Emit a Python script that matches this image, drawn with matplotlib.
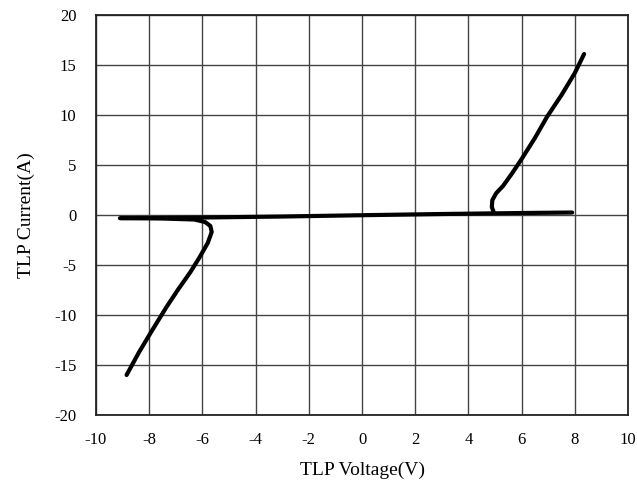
import matplotlib
matplotlib.use('Agg')
import matplotlib.pyplot as plt

# leakage line (V, A)
leak_v = [-9.1, -6.0, -3.0, 0.0, 3.0, 6.0, 7.9]
leak_i = [-0.32, -0.25, -0.15, -0.02, 0.1, 0.2, 0.25]

# positive snapback branch
pos_v = [4.95, 4.88, 4.9, 5.05, 5.3, 5.65, 6.0, 6.5, 6.95, 7.5, 8.0, 8.35]
pos_i = [0.3, 0.8, 1.5, 2.2, 2.9, 4.2, 5.6, 7.7, 9.8, 12.0, 14.2, 16.1]

# negative snapback branch
neg_v = [-9.05, -7.5, -6.3, -5.9, -5.7, -5.65, -5.8, -6.1, -6.45, -6.9, -7.35, -7.95, -8.4, -8.85]
neg_i = [-0.3, -0.35, -0.45, -0.7, -1.1, -1.7, -2.8, -4.2, -5.7, -7.4, -9.2, -11.8, -13.8, -16.0]

x_ticks = list(range(-10, 11, 2))
y_ticks = list(range(-20, 21, 5))

plt.rcParams['font.family'] = ['Liberation Serif', 'DejaVu Serif']
plt.rcParams['axes.unicode_minus'] = False

fig = plt.figure(figsize=(6.37, 4.88), dpi=100)
ax = fig.add_axes([0.1507, 0.1496, 0.8352, 0.8196])

for v, i in [(leak_v, leak_i), (pos_v, pos_i), (neg_v, neg_i)]:
    ax.plot(v, i, color='black', lw=3.0, solid_capstyle='round', solid_joinstyle='round', zorder=3)

ax.set_xlim(-10, 10)
ax.set_ylim(-20, 20)
ax.set_xticks(x_ticks)
ax.set_yticks(y_ticks)
ax.grid(True, color='#444444', lw=1.0)
ax.tick_params(length=0, labelsize=12, pad=14)
ax.tick_params(axis='x', pad=12)
for s in ax.spines.values():
    s.set_linewidth(1.3)
    s.set_color('#222222')

ax.set_xlabel('TLP Voltage(V)', fontsize=14, labelpad=10)
ax.set_ylabel('TLP Current(A)', fontsize=14, labelpad=14)

fig.savefig('out.png', dpi=100)
